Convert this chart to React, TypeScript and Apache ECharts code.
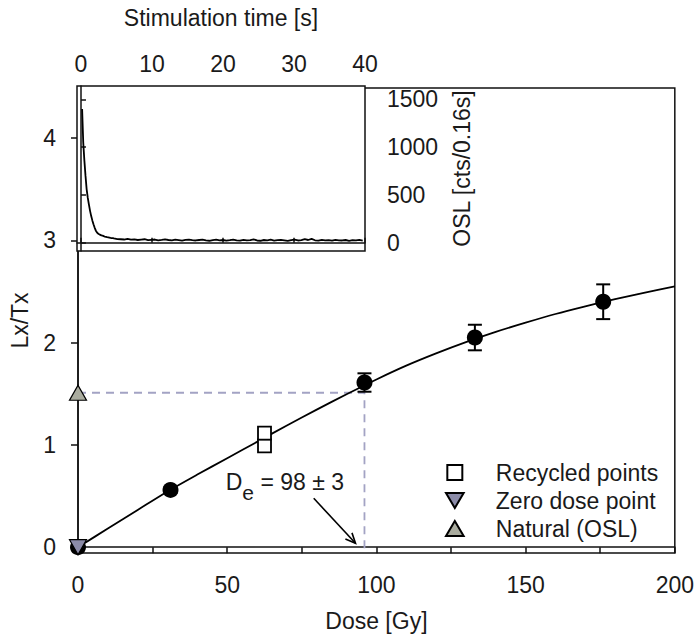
import React, { useEffect, useRef } from 'react';
import * as echarts from 'echarts';

// ---- axis ticks / labels ----
const doseTicks = [0, 25, 50, 75, 100, 125, 150, 175, 200];
const doseLabels = [0, 50, 100, 150, 200];
const lxTxTicks = [0, 1, 2, 3, 4];
const timeTicks = [0, 10, 20, 30, 40];
const oslTicks = [0, 500, 1000, 1500];

// ---- dose response data ----
const regenDose = [0, 31, 96, 133, 176];
const regenLxTx = [0, 0.56, 1.61, 2.05, 2.4];
const regenErr = [0, 0.03, 0.09, 0.125, 0.17];
const recycledDose = [62.5, 62.5];
const recycledLxTx = [0.99, 1.115];
const zeroDose = [0];
const zeroLxTx = [0];
const naturalLxTx = 1.51;
const equivalentDose = 96;
const fitDose = [0, 10, 20, 30, 40, 50, 60, 70, 80, 90, 100, 110, 120, 130, 140, 150, 160, 170, 180, 190, 200];
const fitLxTx = [0, 0.182, 0.364, 0.545, 0.71, 0.87, 1.03, 1.19, 1.345, 1.495, 1.64, 1.775, 1.895, 2.005, 2.105, 2.195, 2.28, 2.355, 2.425, 2.49, 2.55];
const annotationLabel = 'De = 98 ± 3';
const annotationPos = [49.5, 0.64];
const arrowFrom = [79, 0.478];
const arrowTo = [93, 0.038];

// ---- OSL decay (inset) ----
const oslEarlyCounts = [1400, 1050, 860, 700, 560, 470, 400, 335, 280, 235, 195, 160, 130, 110, 98, 90, 84, 78, 75, 70, 66, 63, 60, 58, 55, 52, 50, 49, 46, 44, 42, 40];
const oslTailCounts = [
  38, 35, 41, 33, 36, 30, 34, 38, 29, 32,
  35, 27, 31, 36, 30, 26, 33, 29, 24, 31,
  35, 28, 25, 30, 34, 27, 22, 29, 33, 26,
  30, 24, 28, 35, 27, 23, 31, 26, 29, 36,
  25, 22, 30, 27, 33, 24, 28, 31, 26, 21,
  29, 34, 25, 28, 38, 30, 42, 27, 24, 31,
  26, 29, 23, 32, 27, 25, 30, 22, 28, 26,
  31, 24,
];
const earlyChannel = 0.16;
const tailStart = 5.6;
const tailStep = 0.48;

const FONT = 'Liberation Sans, Arial, Helvetica, sans-serif';
const FS = 23;
const TXT = '#1a1a1a';
const LINE = '#111';

export default function App() {
  const ref = useRef<HTMLDivElement>(null);
  useEffect(() => {
    if (!ref.current) return;
    const chart = echarts.init(ref.current, undefined, { renderer: 'svg' });

    const oslData: number[][] = [];
    oslEarlyCounts.forEach((c, i) => oslData.push([(i + 1) * earlyChannel, c]));
    oslTailCounts.forEach((c, i) => oslData.push([tailStart + i * tailStep, c]));

    const yMin = -0.057;
    const labelStyle = { fontSize: FS, color: TXT, fontFamily: FONT };
    const plain = (v: number) => String(v);

    chart.setOption({
      animation: false,
      textStyle: { fontFamily: FONT },
      grid: [
        { left: 77, top: 88, width: 598, height: 465, show: true, borderColor: LINE, borderWidth: 1.5, backgroundColor: 'transparent', z: 0 },
        { left: 77, top: 86, width: 288, height: 165, show: true, borderColor: LINE, borderWidth: 1.5, backgroundColor: '#fff', z: 10 },
      ],
      xAxis: [
        {
          gridIndex: 0, type: 'value', min: 0, max: 200,
          name: 'Dose [Gy]', nameLocation: 'middle', nameGap: 56, nameTextStyle: labelStyle,
          axisLine: { show: true, lineStyle: { color: LINE, width: 1.5 } },
          axisTick: { show: true, inside: false, length: 6, customValues: doseTicks, lineStyle: { color: LINE, width: 1.5 } },
          axisLabel: { customValues: doseLabels, margin: 20, formatter: plain, ...labelStyle },
          splitLine: { show: false },
        },
        {
          gridIndex: 1, type: 'value', min: -0.56, max: 40, position: 'top', z: 11,
          name: 'Stimulation time [s]', nameLocation: 'middle', nameGap: 57, nameTextStyle: labelStyle,
          axisLine: { show: true, lineStyle: { color: LINE, width: 1.5 } },
          axisTick: { show: true, inside: false, length: 5, customValues: timeTicks, lineStyle: { color: LINE, width: 1.5 } },
          axisLabel: { customValues: timeTicks, margin: 11, formatter: plain, ...labelStyle },
          splitLine: { show: false },
        },
      ],
      yAxis: [
        {
          gridIndex: 0, type: 'value', min: yMin, max: 4.49,
          name: 'Lx/Tx', nameLocation: 'middle', nameGap: 47, nameRotate: 90, nameTextStyle: labelStyle,
          axisLine: { show: true, lineStyle: { color: LINE, width: 1.5 } },
          axisTick: { show: true, inside: false, length: 7, customValues: lxTxTicks, lineStyle: { color: LINE, width: 1.5 } },
          axisLabel: { customValues: lxTxTicks, margin: 22, formatter: plain, ...labelStyle },
          splitLine: { show: false },
        },
        {
          gridIndex: 1, type: 'value', min: -85, max: 1640, position: 'right', z: 11,
          name: 'OSL [cts/0.16s]', nameLocation: 'middle', nameGap: 85, nameRotate: 90, nameTextStyle: labelStyle,
          axisLine: { show: true, lineStyle: { color: LINE, width: 1.5 } },
          axisTick: { show: true, inside: false, length: 5, customValues: oslTicks, lineStyle: { color: LINE, width: 1.5 } },
          axisLabel: { customValues: oslTicks, margin: 22, formatter: plain, ...labelStyle },
          splitLine: { show: false },
        },
      ],
      legend: {
        orient: 'vertical', left: 445, top: 461, itemWidth: 72, itemHeight: 15, itemGap: 5, padding: 0,
        selectedMode: false,
        textStyle: { fontSize: FS, lineHeight: 23, color: TXT, fontFamily: FONT },
        data: ['Recycled points', 'Zero dose point', 'Natural (OSL)'],
      },
      series: [
        {
          name: 'De line', type: 'line', xAxisIndex: 0, yAxisIndex: 0, z: 1, silent: true,
          showSymbol: false, symbol: 'none',
          data: [[0, naturalLxTx], [equivalentDose, naturalLxTx], [equivalentDose, yMin]],
          lineStyle: { color: '#a3a3c4', width: 1.8, type: [8, 6] },
        },
        {
          name: 'Fit', type: 'line', xAxisIndex: 0, yAxisIndex: 0, z: 2, smooth: 0.3,
          showSymbol: false, symbol: 'none',
          data: fitDose.map((d, i) => [d, fitLxTx[i]]),
          lineStyle: { color: '#000', width: 1.8 },
        },
        {
          name: 'Errors', type: 'custom', xAxisIndex: 0, yAxisIndex: 0, z: 3,
          data: regenDose.map((d, i) => [d, regenLxTx[i], regenErr[i]]),
          renderItem: (params: any, api: any) => {
            const x = api.value(0), y = api.value(1), e = api.value(2);
            if (!e) return { type: 'group', children: [] };
            const t = api.coord([x, y + e]);
            const b = api.coord([x, y - e]);
            const h = 7;
            const st = { stroke: '#000', lineWidth: 2 };
            return {
              type: 'group',
              children: [
                { type: 'line', shape: { x1: t[0], y1: t[1], x2: b[0], y2: b[1] }, style: st },
                { type: 'line', shape: { x1: t[0] - h, y1: t[1], x2: t[0] + h, y2: t[1] }, style: st },
                { type: 'line', shape: { x1: b[0] - h, y1: b[1], x2: b[0] + h, y2: b[1] }, style: st },
              ],
            };
          },
        },
        {
          name: 'Regenerated', type: 'scatter', xAxisIndex: 0, yAxisIndex: 0, z: 4, clip: false,
          symbol: 'circle', symbolSize: 16,
          itemStyle: { color: '#000', opacity: 1 },
          data: regenDose.map((d, i) => [d, regenLxTx[i]]),
        },
        {
          name: 'Recycled points', type: 'scatter', xAxisIndex: 0, yAxisIndex: 0, z: 5, clip: false,
          symbol: 'path://M0,0 L10,0 L10,10 L0,10 Z', symbolSize: [13, 13],
          itemStyle: { color: '#fff', borderColor: '#000', borderWidth: 1.8, opacity: 1 },
          data: recycledDose.map((d, i) => [d, recycledLxTx[i]]),
        },
        {
          name: 'Zero dose point', type: 'scatter', xAxisIndex: 0, yAxisIndex: 0, z: 6, clip: false,
          symbol: 'path://M0,0 L20,0 L10,17 Z', symbolSize: [17, 15],
          itemStyle: { color: '#8b8ba8', borderColor: '#000', borderWidth: 1.2, opacity: 1 },
          data: zeroDose.map((d, i) => [d, zeroLxTx[i]]),
        },
        {
          name: 'Natural (OSL)', type: 'scatter', xAxisIndex: 0, yAxisIndex: 0, z: 6, clip: false,
          symbol: 'path://M10,0 L20,17 L0,17 Z', symbolSize: [17, 15],
          itemStyle: { color: '#aaac9f', borderColor: '#000', borderWidth: 1.2, opacity: 1 },
          data: [[0, naturalLxTx]],
        },
        {
          name: 'Arrow', type: 'custom', xAxisIndex: 0, yAxisIndex: 0, z: 3, clip: false,
          data: [[arrowFrom[0], arrowFrom[1], arrowTo[0], arrowTo[1]]],
          renderItem: (params: any, api: any) => {
            const a = api.coord([api.value(0), api.value(1)]);
            const b = api.coord([api.value(2), api.value(3)]);
            const ang = Math.atan2(b[1] - a[1], b[0] - a[0]);
            const L = 11, w = 0.42;
            const p1 = [b[0] - L * Math.cos(ang - w), b[1] - L * Math.sin(ang - w)];
            const p2 = [b[0] - L * Math.cos(ang + w), b[1] - L * Math.sin(ang + w)];
            const st = { stroke: '#000', lineWidth: 1.6, fill: null };
            return {
              type: 'group',
              children: [
                { type: 'line', shape: { x1: a[0], y1: a[1], x2: b[0], y2: b[1] }, style: st },
                { type: 'polyline', shape: { points: [p1, b, p2] }, style: st },
              ],
            };
          },
        },
        {
          name: 'Annotation', type: 'custom', xAxisIndex: 0, yAxisIndex: 0, z: 7, clip: false,
          data: [[annotationPos[0], annotationPos[1]]],
          renderItem: (params: any, api: any) => {
            const p = api.coord([api.value(0), api.value(1)]);
            const parts = annotationLabel.split(' = ');
            return {
              type: 'text',
              x: p[0], y: p[1] - 11.5,
              style: {
                text: `{d|${parts[0][0]}}{e|${parts[0].slice(1)}}{d| = ${parts[1]}}`,
                align: 'left', verticalAlign: 'top',
                rich: {
                  d: { fontSize: FS, lineHeight: 23, verticalAlign: 'top', fill: TXT, fontFamily: FONT },
                  e: { fontSize: 21, lineHeight: 33, verticalAlign: 'bottom', fill: TXT, fontFamily: FONT },
                },
              },
            };
          },
        },
        {
          name: 'OSL decay', type: 'line', xAxisIndex: 1, yAxisIndex: 1, z: 12,
          showSymbol: false, symbol: 'none',
          data: oslData,
          lineStyle: { color: '#000', width: 1.8 },
        },
      ],
    });
    return () => chart.dispose();
  }, []);
  return <div ref={ref} style={{ position: 'fixed', left: 0, top: 0, width: 697, height: 643, background: '#fff' }} />;
}
